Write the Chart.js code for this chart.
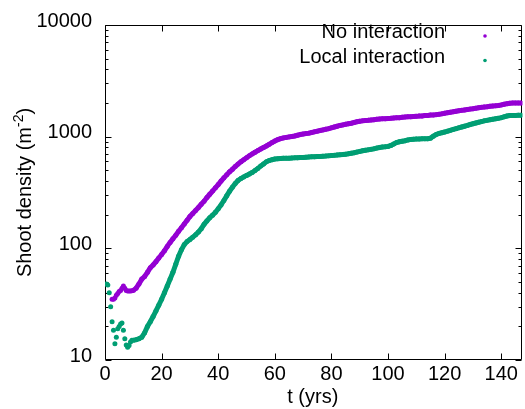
<!DOCTYPE html>
<html>
<head>
<meta charset="utf-8">
<script src="https://cdn.jsdelivr.net/npm/chart.js@4/dist/chart.umd.min.js"></script>
<style>
  html, body { margin: 0; padding: 0; background: #fff; }
  #wrap { width: 525px; height: 409px; }
</style>
</head>
<body>
<div id="wrap"><canvas id="c" width="525" height="409"></canvas></div>
<script>
// Simulation time (years); half-year output for the first decade, yearly afterwards
const years = [
  0.5, 1, 1.5, 2, 2.5, 3, 3.5, 4, 4.5, 5, 5.5, 6, 6.5, 7, 7.5, 8, 8.5, 9, 9.5, 10,
  11, 12, 13, 14, 15, 16, 17, 18, 19, 20,
  21, 22, 23, 24, 25, 26, 27, 28, 29, 30,
  31, 32, 33, 34, 35, 36, 37, 38, 39, 40,
  41, 42, 43, 44, 45, 46, 47, 48, 49, 50,
  51, 52, 53, 54, 55, 56, 57, 58, 59, 60,
  61, 62, 63, 64, 65, 66, 67, 68, 69, 70,
  71, 72, 73, 74, 75, 76, 77, 78, 79, 80,
  81, 82, 83, 84, 85, 86, 87, 88, 89, 90,
  91, 92, 93, 94, 95, 96, 97, 98, 99, 100,
  101, 102, 103, 104, 105, 106, 107, 108, 109, 110,
  111, 112, 113, 114, 115, 116, 117, 118, 119, 120,
  121, 122, 123, 124, 125, 126, 127, 128, 129, 130,
  131, 132, 133, 134, 135, 136, 137, 138, 139, 140,
  141, 142, 143, 144, 145, 146, 147
];

// Shoot density (m^-2) without interaction between shoots
const noInteraction = [
  null, null, null, null, 35, 35, 36, 38, 39.5, 41, 42, 44, 46, 44, 42, 41.5, 41.5, 41.5, 41.7, 42,
  44, 48, 53, 56, 61, 67, 71, 76, 82, 88,
  95, 104, 113, 122, 131, 142, 153, 165, 178, 193,
  205, 218, 232, 248, 264, 285, 305, 326, 348, 372,
  400, 428, 455, 485, 510, 540, 568, 595, 620, 648,
  675, 700, 725, 750, 775, 800, 825, 855, 885, 915,
  940, 960, 975, 985, 995, 1005, 1015, 1030, 1045, 1055,
  1065, 1075, 1090, 1105, 1120, 1135, 1150, 1165, 1180, 1200,
  1220, 1240, 1260, 1275, 1290, 1305, 1320, 1340, 1360, 1375,
  1385, 1395, 1400, 1410, 1420, 1430, 1440, 1445, 1450, 1455,
  1460, 1470, 1475, 1480, 1490, 1500, 1505, 1510, 1515, 1520,
  1530, 1535, 1545, 1550, 1560, 1565, 1575, 1585, 1600, 1620,
  1640, 1655, 1670, 1690, 1705, 1720, 1735, 1750, 1765, 1780,
  1800, 1815, 1830, 1845, 1855, 1870, 1880, 1890, 1905, 1925,
  1950, 1975, 1995, 2000, 2000, 2000, 2000
];

// Shoot density (m^-2) with local interaction between shoots
const localInteraction = [
  48, 47, 40, 30, 22, 18.5, 14, 16, 19, 20, 21, 21.5, 18.5, 15.5, 13.6, 13, 13.5, 14.5, 15, 15,
  15.2, 15.5, 16, 17.5, 20, 22, 24.5, 27.5, 31, 35,
  40, 46, 53, 61, 72, 85, 97, 108, 115, 120,
  126, 132, 140, 150, 164, 176, 188, 198, 210, 226,
  245, 268, 295, 325, 352, 380, 405, 422, 436, 450,
  463, 478, 497, 520, 545, 570, 595, 612, 622, 630,
  635, 638, 640, 640, 642, 645, 646, 648, 650, 652,
  655, 658, 660, 662, 664, 666, 668, 670, 673, 677,
  680, 684, 688, 692, 697, 702, 710, 718, 728, 738,
  748, 755, 762, 770, 778, 790, 800, 808, 812, 818,
  835, 860, 885, 900, 910, 920, 935, 945, 950, 952,
  955, 957, 958, 960, 970, 1010, 1045, 1070, 1085, 1100,
  1120, 1140, 1160, 1180, 1200, 1220, 1240, 1260, 1285, 1305,
  1325, 1345, 1365, 1385, 1400, 1415, 1430, 1445, 1460, 1480,
  1505, 1530, 1545, 1550, 1550, 1552, 1555
];

const seriesNames = ['No interaction', 'Local interaction'];
const xTickValues = [0, 20, 40, 60, 80, 100, 120, 140];
const yTickValues = [10, 100, 1000, 10000];

const PURPLE = '#9400d3';
const GREEN = '#009e73';
const FONT_FAMILY = "'Liberation Sans', Arial, Helvetica, sans-serif";
const FONT_SIZE = 20;
// before this time the points are scattered and are not joined into a band
const SCATTER_UNTIL = 10;

function toPoints(values) {
  const pts = [];
  values.forEach((v, i) => { if (v !== null) pts.push({ x: years[i], y: v }); });
  return pts;
}

// Border box, inward major/minor ticks, key and axis titles in a gnuplot-like style
const decorations = {
  id: 'decorations',
  beforeDatasetsDraw(chart) {
    const { ctx, chartArea: a, scales: { x, y } } = chart;
    const L = Math.floor(a.left) + 0.5, R = Math.floor(a.right) - 0.5;
    const T = Math.floor(a.top) + 0.5, B = Math.floor(a.bottom) - 0.5;
    ctx.save();
    ctx.strokeStyle = '#000';
    ctx.lineWidth = 1;
    ctx.beginPath();
    ctx.rect(L, T, R - L, B - T);
    // x ticks, bottom and top
    xTickValues.forEach(v => {
      const px = Math.round(x.getPixelForValue(v)) + 0.5;
      ctx.moveTo(px, B); ctx.lineTo(px, B - 6);
      ctx.moveTo(px, T); ctx.lineTo(px, T + 6);
    });
    // y ticks, left and right: majors at decades, minors in between
    yTickValues.forEach((d, i) => {
      const py = Math.round(y.getPixelForValue(d)) + 0.5;
      ctx.moveTo(L, py); ctx.lineTo(L + 6, py);
      ctx.moveTo(R, py); ctx.lineTo(R - 6, py);
      if (i < yTickValues.length - 1) {
        for (let m = 2; m <= 9; m++) {
          const pm = Math.round(y.getPixelForValue(d * m)) + 0.5;
          ctx.moveTo(L, pm); ctx.lineTo(L + 3, pm);
          ctx.moveTo(R, pm); ctx.lineTo(R - 3, pm);
        }
      }
    });
    ctx.stroke();
    ctx.restore();
  },
  afterDraw(chart) {
    const { ctx, chartArea: a } = chart;
    ctx.save();
    ctx.fillStyle = '#000';
    ctx.font = FONT_SIZE + 'px ' + FONT_FAMILY;

    // key
    ctx.textAlign = 'right';
    ctx.textBaseline = 'alphabetic';
    const keyRows = [{ base: 38, mark: 36 }, { base: 63, mark: 60.5 }];
    chart.data.datasets.forEach((ds, i) => {
      ctx.fillStyle = '#000';
      ctx.fillText(ds.label, 445, keyRows[i].base);
      ctx.fillStyle = ds.backgroundColor;
      ctx.beginPath();
      ctx.arc(485, keyRows[i].mark, 1.8, 0, Math.PI * 2);
      ctx.fill();
    });

    // x title
    ctx.fillStyle = '#000';
    ctx.textAlign = 'center';
    ctx.fillText('t (yrs)', (a.left + a.right) / 2 - 1, 403);

    // y title with superscript exponent
    const main = 'Shoot density (m';
    const sup = '-2';
    const close = ')';
    const supFont = '14px ' + FONT_FAMILY;
    const w1 = ctx.measureText(main).width;
    const w3 = ctx.measureText(close).width;
    ctx.font = supFont;
    const w2 = ctx.measureText(sup).width;
    const total = w1 + w2 + w3;
    ctx.translate(31, (a.top + a.bottom) / 2);
    ctx.rotate(-Math.PI / 2);
    ctx.textAlign = 'left';
    let xs = -total / 2;
    ctx.font = FONT_SIZE + 'px ' + FONT_FAMILY;
    ctx.fillText(main, xs, 0);
    xs += w1;
    ctx.font = supFont;
    ctx.fillText(sup, xs, -8);
    xs += w2;
    ctx.font = FONT_SIZE + 'px ' + FONT_FAMILY;
    ctx.fillText(close, xs, 0);
    ctx.restore();
  }
};

const tickFont = { family: FONT_FAMILY, size: FONT_SIZE };

function bandDataset(label, values, color) {
  return {
    label,
    data: toPoints(values),
    backgroundColor: color,
    borderColor: color,
    borderWidth: 5,
    pointBorderWidth: 0,
    pointRadius: 2.5,
    pointHoverRadius: 2.5,
    showLine: true,
    tension: 0,
    segment: {
      borderColor: c => (c.p0.parsed.x < SCATTER_UNTIL ? 'rgba(0,0,0,0)' : undefined)
    }
  };
}

new Chart(document.getElementById('c'), {
  type: 'scatter',
  data: {
    datasets: [
      bandDataset(seriesNames[0], noInteraction, PURPLE),
      bandDataset(seriesNames[1], localInteraction, GREEN)
    ]
  },
  options: {
    responsive: false,
    animation: false,
    devicePixelRatio: 1,
    layout: { padding: { top: 22, right: 1, left: 0, bottom: 0 } },
    plugins: { legend: { display: false }, tooltip: { enabled: false } },
    scales: {
      x: {
        type: 'linear',
        min: 0,
        max: 147.5,
        afterFit(s) { s.height = 49; },
        afterBuildTicks(s) { s.ticks = xTickValues.map(v => ({ value: v })); },
        grid: { display: false, drawTicks: false },
        border: { display: false },
        ticks: { font: tickFont, color: '#000', padding: 2, maxRotation: 0, autoSkip: false }
      },
      y: {
        type: 'logarithmic',
        min: 10,
        max: 10000,
        afterFit(s) { s.width = 105; },
        afterBuildTicks(s) { s.ticks = yTickValues.map(v => ({ value: v })); },
        grid: { display: false, drawTicks: false },
        border: { display: false },
        ticks: {
          font: tickFont,
          color: '#000',
          padding: 13,
          labelOffset: -4,
          autoSkip: false,
          callback: v => String(v)
        }
      }
    }
  },
  plugins: [decorations]
});
</script>
</body>
</html>
